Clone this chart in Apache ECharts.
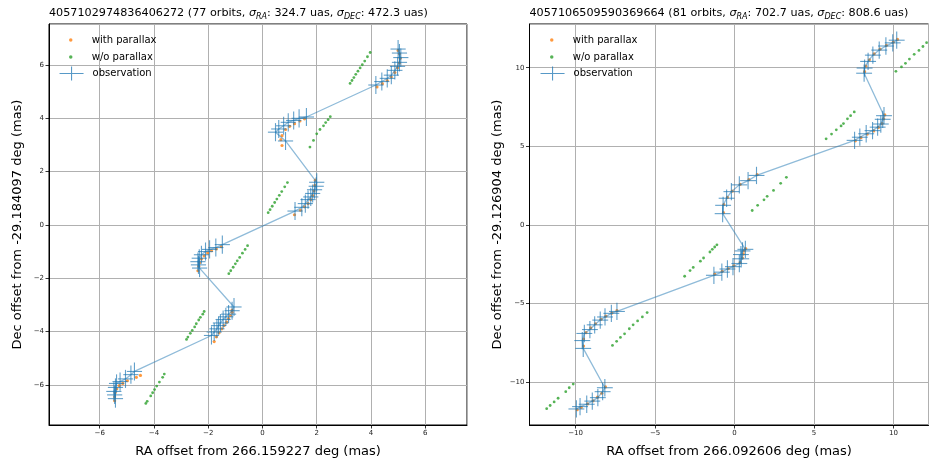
<!DOCTYPE html>
<html>
<head>
<meta charset="utf-8">
<script src="https://cdn.jsdelivr.net/npm/echarts@6/dist/echarts.min.js"></script>
<style>
  html, body { margin: 0; padding: 0; background: #fff; }
  #chart { width: 929px; height: 463px; }
</style>
</head>
<body>
<div id="chart"></div>
<script>
// source 4057102974836406272 : observations, model with parallax, linear model (mas)
var leftObs = [
  [-5.42, -6.52], [-5.45, -6.38], [-5.48, -6.25], [-5.42, -6.1], [-5.38, -5.95], [-5.25, -5.88], [-5.05, -5.78], [-4.85, -5.62], [-4.72, -5.5],
  [-1.88, -4.15], [-1.78, -4.02], [-1.68, -3.9], [-1.62, -3.78], [-1.55, -3.68], [-1.45, -3.55], [-1.35, -3.45], [-1.25, -3.35], [-1.12, -3.22], [-1.05, -3.08],
  [-2.32, -1.62], [-2.36, -1.5], [-2.38, -1.38], [-2.33, -1.25], [-2.25, -1.12], [-2.1, -1.0], [-1.95, -0.92], [-1.72, -0.85], [-1.48, -0.74],
  [1.2, 0.52], [1.45, 0.66], [1.58, 0.8], [1.68, 0.95], [1.78, 1.05], [1.85, 1.18], [1.92, 1.32], [1.98, 1.45], [2.0, 1.6],
  [0.85, 3.15], [0.48, 3.48], [0.6, 3.6], [0.78, 3.72], [0.95, 3.85], [1.15, 3.92], [1.35, 4.0], [1.62, 4.05],
  [4.18, 5.25], [4.4, 5.38], [4.6, 5.5], [4.75, 5.62], [4.88, 5.8], [4.98, 5.95], [5.05, 6.1], [5.1, 6.28], [5.05, 6.45], [5.0, 6.6]
]
var leftModel = [
  [-5.45, -6.6], [-5.45, -6.45], [-5.43, -6.3], [-5.37, -6.15], [-5.28, -6.03], [-5.15, -5.95], [-4.98, -5.85], [-4.65, -5.72], [-4.5, -5.65],
  [-1.78, -4.38], [-1.7, -4.2], [-1.6, -4.05], [-1.5, -3.9], [-1.42, -3.78], [-1.32, -3.65], [-1.25, -3.52], [-1.18, -3.4], [-1.12, -3.28], [-1.12, -3.2],
  [-2.38, -1.72], [-2.35, -1.55], [-2.32, -1.42], [-2.25, -1.28], [-2.15, -1.16], [-2.02, -1.05], [-1.88, -0.97], [-1.7, -0.9], [-1.52, -0.82],
  [1.18, 0.38], [1.4, 0.55], [1.55, 0.68], [1.68, 0.8], [1.78, 0.95], [1.85, 1.1], [1.9, 1.28], [1.93, 1.48], [1.95, 1.68],
  [0.72, 2.98], [0.68, 3.2], [0.72, 3.35], [0.85, 3.58], [1.0, 3.7], [1.18, 3.8], [1.38, 3.9], [1.55, 3.98],
  [4.22, 5.18], [4.42, 5.3], [4.6, 5.42], [4.75, 5.55], [4.88, 5.72], [4.98, 5.9], [5.05, 6.08], [5.08, 6.25], [5.05, 6.42], [5.0, 6.55]
]
var leftLinear = [
  [-4.3, -6.7], [-4.25, -6.62], [-4.12, -6.42], [-4.05, -6.3], [-3.98, -6.18], [-3.9, -6.05], [-3.8, -5.9], [-3.68, -5.72], [-3.62, -5.6],
  [-2.8, -4.3], [-2.75, -4.21], [-2.66, -4.07], [-2.59, -3.96], [-2.5, -3.83], [-2.44, -3.71], [-2.35, -3.57], [-2.29, -3.47], [-2.2, -3.35], [-2.15, -3.25],
  [-1.24, -1.83], [-1.17, -1.72], [-1.08, -1.59], [-1.0, -1.46], [-0.93, -1.35], [-0.84, -1.22], [-0.74, -1.06], [-0.64, -0.92], [-0.55, -0.78],
  [0.21, 0.46], [0.28, 0.57], [0.36, 0.7], [0.45, 0.84], [0.53, 0.97], [0.62, 1.11], [0.71, 1.25], [0.82, 1.43], [0.92, 1.59],
  [1.75, 2.92], [1.88, 3.17], [2.0, 3.42], [2.12, 3.58], [2.25, 3.72], [2.33, 3.84], [2.42, 3.95], [2.5, 4.06],
  [3.23, 5.31], [3.3, 5.42], [3.37, 5.53], [3.44, 5.65], [3.52, 5.77], [3.6, 5.89], [3.68, 6.01], [3.77, 6.15], [3.87, 6.31], [3.97, 6.47]
]
var leftErr = [0.28, 0.34]  // RA, Dec half widths of the crosses

// source 4057106509590369664
var rightObs = [
  [-9.95, -11.7], [-9.72, -11.55], [-9.3, -11.4], [-8.95, -11.2], [-8.6, -10.98], [-8.3, -10.6], [-8.16, -10.35],
  [-9.52, -7.85], [-9.58, -7.35], [-9.45, -6.9], [-9.1, -6.65], [-8.8, -6.35], [-8.45, -6.05], [-8.15, -5.85], [-7.75, -5.62], [-7.4, -5.5],
  [-1.3, -3.2], [-0.8, -3.0], [-0.45, -2.8], [-0.1, -2.65], [0.3, -2.45], [0.42, -2.15], [0.4, -1.88], [0.5, -1.65], [0.68, -1.55],
  [-0.75, 0.72], [-0.72, 1.25], [-0.5, 1.7], [-0.2, 2.12], [0.3, 2.55], [0.85, 2.82], [1.38, 3.15],
  [7.55, 5.38], [7.88, 5.58], [8.28, 5.8], [8.68, 6.0], [9.0, 6.22], [9.2, 6.42], [9.32, 6.72], [9.4, 6.95],
  [8.15, 9.65], [8.18, 9.98], [8.4, 10.4], [8.7, 10.8], [9.1, 11.12], [9.52, 11.38], [9.95, 11.58], [10.2, 11.75]
]
var rightModel = [
  [-9.9, -11.75], [-9.65, -11.6], [-9.25, -11.38], [-8.9, -11.18], [-8.62, -10.95], [-8.35, -10.7], [-8.12, -10.3],
  [-9.5, -7.7], [-9.5, -7.25], [-9.35, -6.85], [-9.05, -6.55], [-8.75, -6.28], [-8.4, -6.0], [-8.1, -5.8], [-7.72, -5.6], [-7.4, -5.45],
  [-1.25, -3.12], [-0.78, -2.95], [-0.4, -2.78], [-0.05, -2.6], [0.35, -2.4], [0.5, -2.1], [0.55, -1.85], [0.6, -1.65], [0.7, -1.5],
  [-0.7, 0.78], [-0.68, 1.3], [-0.45, 1.75], [-0.15, 2.15], [0.35, 2.58], [0.9, 2.88], [1.42, 3.2],
  [7.6, 5.35], [7.95, 5.55], [8.35, 5.78], [8.75, 5.98], [9.05, 6.2], [9.28, 6.45], [9.38, 6.75], [9.45, 7.0],
  [8.18, 9.75], [8.25, 10.1], [8.48, 10.5], [8.78, 10.88], [9.15, 11.18], [9.55, 11.42], [9.98, 11.62], [10.25, 11.8]
]
var rightLinear = [
  [-11.82, -11.68], [-11.6, -11.48], [-11.35, -11.25], [-11.1, -11.02], [-10.62, -10.6], [-10.4, -10.35], [-10.15, -10.12],
  [-7.68, -7.66], [-7.42, -7.4], [-7.18, -7.15], [-6.92, -6.92], [-6.62, -6.6], [-6.38, -6.35], [-6.1, -6.1], [-5.8, -5.85], [-5.5, -5.57],
  [-3.14, -3.26], [-2.8, -2.9], [-2.6, -2.7], [-2.15, -2.3], [-1.95, -2.1], [-1.55, -1.72], [-1.4, -1.55], [-1.25, -1.4], [-1.11, -1.26],
  [1.11, 0.92], [1.45, 1.25], [1.85, 1.6], [2.05, 1.82], [2.45, 2.2], [2.9, 2.65], [3.26, 3.03],
  [5.76, 5.48], [6.1, 5.78], [6.4, 6.05], [6.7, 6.3], [6.85, 6.45], [7.1, 6.75], [7.3, 6.95], [7.53, 7.19],
  [10.15, 9.77], [10.5, 10.05], [10.75, 10.28], [11.0, 10.55], [11.3, 10.85], [11.6, 11.1], [11.85, 11.35], [12.08, 11.59]
]
var rightErr = [0.5, 0.55]

var titles = [
  '4057102974836406272 (77 orbits, {s|σ}{sub|RA}: 324.7 uas, {s|σ}{sub|DEC}: 472.3 uas)',
  '4057106509590369664 (81 orbits, {s|σ}{sub|RA}: 702.7 uas, {s|σ}{sub|DEC}: 808.6 uas)'
]
var raNames = ['RA offset from 266.159227 deg (mas)', 'RA offset from 266.092606 deg (mas)']
var decNames = ['Dec offset from -29.184097 deg (mas)', 'Dec offset from -29.126904 deg (mas)']
var xRanges = [[-7.87, 7.54], [-12.9, 12.2]]
var yRanges = [[-7.51, 7.54], [-12.72, 12.78]]
var steps = [2, 5]

var FONT = 'DejaVu Sans'
var BLUE = '#1f77b4', ORANGE = '#ff7f0e', GREEN = '#2ca02c'

var myChart = echarts.init(document.getElementById('chart'))

var grids = [
  { left: 49, top: 24, width: 418, height: 407 },
  { left: 529.5, top: 24, width: 399, height: 407 }
]

function tickFmt(step) {
  return function(v) {
    if (Math.abs(v / step - Math.round(v / step)) > 1e-6) return ''
    return String(Math.round(v)).replace('-', '\u2212')
  }
}

function makeAxis(i, range, name, gap) {
  return {
    type: 'value',
    gridIndex: i,
    min: range[0],
    max: range[1],
    minInterval: steps[i],
    maxInterval: steps[i],
    name: name,
    nameLocation: 'middle',
    nameGap: gap,
    nameTextStyle: { fontFamily: FONT, fontSize: 13, color: '#000' },
    axisLine: { show: true, onZero: false, lineStyle: { color: '#000', width: 1 } },
    axisTick: { show: true, inside: false, length: 3.5, lineStyle: { color: '#000', width: 0.8 } },
    axisLabel: {
      show: true,
      margin: 5,
      fontFamily: FONT,
      fontSize: 7,
      color: '#222',
      showMinLabel: false,
      showMaxLabel: false,
      formatter: tickFmt(steps[i])
    },
    splitLine: { show: true, lineStyle: { color: '#b0b0b0', width: 1 } }
  }
}

function errorBars(err) {
  return function(params, api) {
    var x = api.value(0), y = api.value(1)
    var l = api.coord([x - err[0], y]), r = api.coord([x + err[0], y])
    var b = api.coord([x, y - err[1]]), t = api.coord([x, y + err[1]])
    var st = { stroke: BLUE, lineWidth: 1.1, opacity: 0.7 }
    return {
      type: 'group',
      children: [
        { type: 'line', shape: { x1: l[0], y1: l[1], x2: r[0], y2: r[1] }, style: st },
        { type: 'line', shape: { x1: b[0], y1: b[1], x2: t[0], y2: t[1] }, style: st }
      ]
    }
  }
}

function seriesFor(i, obs, model, linear, err) {
  return [
    {
      name: 'w/o parallax', type: 'scatter', xAxisIndex: i, yAxisIndex: i,
      data: linear, symbolSize: 2.8, itemStyle: { color: GREEN }, z: 3
    },
    {
      name: 'with parallax', type: 'scatter', xAxisIndex: i, yAxisIndex: i,
      data: model, symbolSize: 3.2, itemStyle: { color: ORANGE }, z: 4
    },
    {
      name: 'observation', type: 'line', xAxisIndex: i, yAxisIndex: i,
      data: obs, showSymbol: false, symbol: 'none',
      lineStyle: { color: BLUE, width: 1.3, opacity: 0.5 }, z: 5
    },
    {
      name: 'observation', type: 'custom', xAxisIndex: i, yAxisIndex: i,
      data: obs, encode: { x: 0, y: 1 }, renderItem: errorBars(err), z: 6
    }
  ]
}

// legend rows are placed by their visible bounding box, so left is the icon's own left edge
function legendsFor(dotLeft, crossLeft) {
  var txt = { fontFamily: FONT, fontSize: 10, color: '#000' }
  return [
    {
      data: ['with parallax'], left: dotLeft, top: 35, padding: 0, icon: 'circle',
      itemWidth: 32, itemHeight: 3.5, selectedMode: false, textStyle: txt
    },
    {
      data: ['w/o parallax'], left: dotLeft, top: 52, padding: 0, icon: 'circle',
      itemWidth: 32, itemHeight: 3.5, selectedMode: false, textStyle: txt,
      itemStyle: { color: GREEN }
    },
    {
      data: ['observation'], left: crossLeft, top: 66, padding: 0,
      icon: 'path://M0,7L24,7M12,0L12,14',
      itemWidth: 32, itemHeight: 14, selectedMode: false, textStyle: txt,
      itemStyle: { color: 'rgba(0,0,0,0)', borderColor: 'rgba(31,119,180,0.75)', borderWidth: 1.1 }
    }
  ]
}

var titleRich = {
  s: { fontFamily: FONT, fontSize: 11.2, fontStyle: 'italic', color: '#000' },
  sub: { fontFamily: FONT, fontSize: 8, fontStyle: 'italic', color: '#000', verticalAlign: 'bottom', lineHeight: 15 }
}

function titleFor(i, left) {
  return {
    text: titles[i], left: left, top: 6, padding: 0,
    textStyle: { fontFamily: FONT, fontSize: 11.2, fontWeight: 'normal', color: '#000', lineHeight: 15, rich: titleRich }
  }
}

var option = {
  animation: false,
  backgroundColor: '#fff',
  title: [titleFor(0, 49), titleFor(1, 529.5)],
  grid: grids.map(function(g) {
    return { left: g.left, top: g.top, width: g.width, height: g.height, show: true, borderColor: '#000', borderWidth: 1, backgroundColor: '#fff' }
  }),
  legend: legendsFor(69, 59).concat(legendsFor(550, 540)),
  xAxis: [
    makeAxis(0, xRanges[0], raNames[0], 20),
    makeAxis(1, xRanges[1], raNames[1], 20)
  ],
  yAxis: [
    makeAxis(0, yRanges[0], decNames[0], 25),
    makeAxis(1, yRanges[1], decNames[1], 25)
  ],
  series: seriesFor(0, leftObs, leftModel, leftLinear, leftErr).concat(
    seriesFor(1, rightObs, rightModel, rightLinear, rightErr))
}

myChart.setOption(option)
</script>
</body>
</html>
